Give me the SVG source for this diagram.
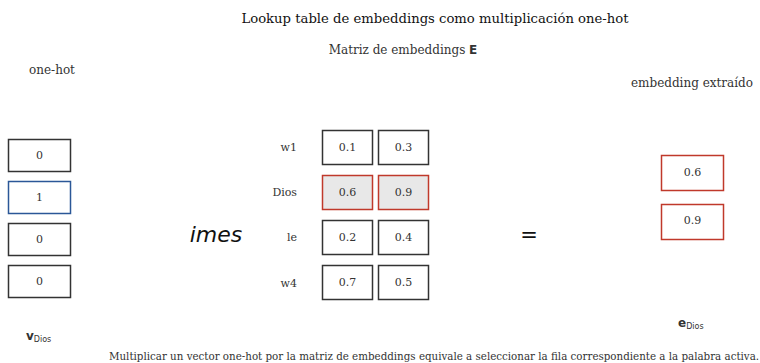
<svg xmlns="http://www.w3.org/2000/svg" width="760" height="363" viewBox="0 0 760 363">
<style>
.s{font-family:"DejaVu Serif",serif;fill:#333}
.b{fill:#fff;stroke:#333;stroke-width:1.5}
.h{fill:#e8e8e8;stroke:#c0392b;stroke-width:1.5}
.r{fill:#fff;stroke:#c0392b;stroke-width:1.5}
.bl{fill:#fff;stroke:#2b5797;stroke-width:1.5}
.v{font-size:11px;text-anchor:middle}
.lab{font-size:11px;text-anchor:end}
.bs{font-family:"DejaVu Sans",sans-serif;fill:#333}
</style>
<rect width="760" height="363" fill="#fff"/>
<text class="s" x="435" y="23" text-anchor="middle" font-size="13.2" style="fill:#111">Lookup table de embeddings como multiplicación one-hot</text>
<text class="s" x="403" y="54" text-anchor="middle" font-size="12">Matriz de embeddings <tspan class="bs" font-weight="bold">E</tspan></text>
<text class="s" x="52" y="74" text-anchor="middle" font-size="12">one-hot</text>
<text class="s" x="692" y="87" text-anchor="middle" font-size="12">embedding extraído</text>
<g id="onehot">
<g id="oh0"><rect class="b" x="8.5" y="139.5" width="62" height="32"/><text class="s v" x="39.5" y="159">0</text></g>
<g id="oh1"><rect class="bl" x="8.5" y="181.5" width="62" height="32"/><text class="s v" x="39.5" y="201">1</text></g>
<g id="oh2"><rect class="b" x="8.5" y="223.5" width="62" height="32"/><text class="s v" x="39.5" y="243">0</text></g>
<g id="oh3"><rect class="b" x="8.5" y="265.5" width="62" height="32"/><text class="s v" x="39.5" y="285">0</text></g>
</g>
<text class="bs" x="26" y="340" font-size="12" font-weight="bold">v<tspan font-size="8" font-weight="normal" dy="2">Dios</tspan></text>
<text id="times" x="216" y="242" text-anchor="middle" font-family="DejaVu Sans,sans-serif" font-style="italic" font-size="22" fill="#111">imes</text>
<g id="matrix">
<g id="row1"><text class="s lab" x="297" y="151">w1</text>
<rect class="b" x="322.5" y="130.5" width="50" height="34"/><text class="s v" x="347.5" y="151">0.1</text>
<rect class="b" x="378.5" y="130.5" width="50" height="34"/><text class="s v" x="403.5" y="151">0.3</text></g>
<g id="row2"><text class="s lab" x="297" y="196">Dios</text>
<rect class="h" x="322.5" y="175.5" width="50" height="34"/><text class="s v" x="347.5" y="196">0.6</text>
<rect class="h" x="378.5" y="175.5" width="50" height="34"/><text class="s v" x="403.5" y="196">0.9</text></g>
<g id="row3"><text class="s lab" x="297" y="241">le</text>
<rect class="b" x="322.5" y="220.5" width="50" height="34"/><text class="s v" x="347.5" y="241">0.2</text>
<rect class="b" x="378.5" y="220.5" width="50" height="34"/><text class="s v" x="403.5" y="241">0.4</text></g>
<g id="row4"><text class="s lab" x="297" y="287">w4</text>
<rect class="b" x="322.5" y="265.5" width="50" height="34"/><text class="s v" x="347.5" y="286">0.7</text>
<rect class="b" x="378.5" y="265.5" width="50" height="34"/><text class="s v" x="403.5" y="286">0.5</text></g>
</g>
<text id="eq" x="529" y="242" text-anchor="middle" font-family="DejaVu Sans,sans-serif" font-size="21" fill="#111">=</text>
<g id="out">
<g id="out0"><rect class="r" x="661.5" y="155.5" width="62" height="35"/><text class="s v" x="692.5" y="176">0.6</text></g>
<g id="out1"><rect class="r" x="661.5" y="204.5" width="62" height="35"/><text class="s v" x="692.5" y="224">0.9</text></g>
</g>
<text class="bs" x="678" y="327" font-size="12" font-weight="bold">e<tspan font-size="8" font-weight="normal" dy="2">Dios</tspan></text>
<text class="s" x="434" y="360" text-anchor="middle" font-size="10.3">Multiplicar un vector one-hot por la matriz de embeddings equivale a seleccionar la fila correspondiente a la palabra activa.</text>
</svg>
